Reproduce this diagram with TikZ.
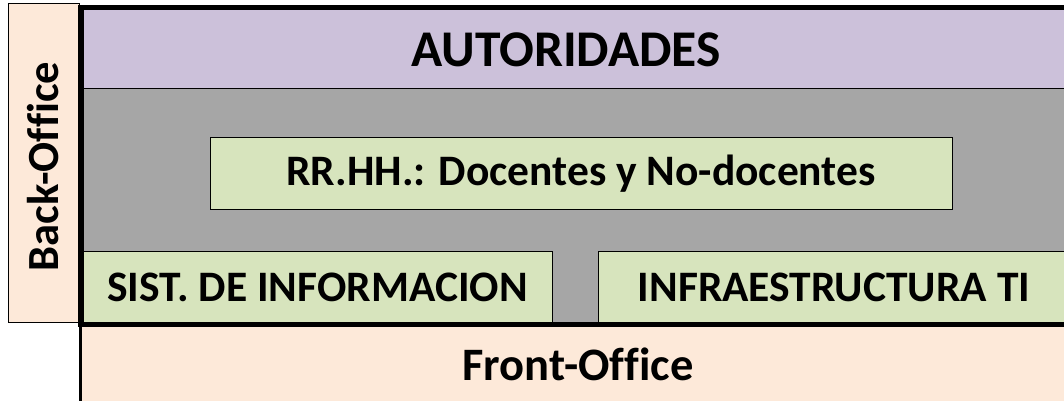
\documentclass[tikz,border=0pt]{standalone}
\usepackage{fontspec}
\setmainfont{Carlito}[Ligatures=NoCommon]
\definecolor{peach}{RGB}{253,233,217}
\definecolor{lilac}{RGB}{204,193,218}
\definecolor{midgray}{RGB}{166,166,166}
\definecolor{paleg}{RGB}{215,228,189}
\tikzset{
  box/.style={draw=black, line width=1pt, anchor=south west, inner sep=0pt, outer sep=0pt},
  lbl/.style={font=\bfseries\fontsize{43.5}{48}\selectfont, inner sep=0pt},
  biglbl/.style={font=\bfseries\fontsize{51.5}{56}\selectfont, inner sep=0pt},
}
\begin{document}
\begin{tikzpicture}[x=1pt,y=1pt]
\useasboundingbox (0,0) rectangle (1064,401);
% back office
\node[box, fill=peach, minimum width=71pt, minimum height=319pt] (back) at (8,78) {};
% front office
\node[box, draw=none, fill=peach, minimum width=991pt, minimum height=85pt] (front) at (79,-11) {};
\draw[line width=2.5pt] (front.north west) ++(1.25,0) -- ++(0,-85);
% bands
\node[box, fill=midgray, minimum width=987pt, minimum height=234pt] (mid) at (83,78) {};
\node[box, fill=lilac, minimum width=987pt, minimum height=79pt] (auth) at (83,312) {};
\node[box, fill=paleg, minimum width=742pt, minimum height=72pt] (rrhh) at (210,191) {};
\node[box, fill=paleg, minimum width=469pt, minimum height=71pt] (sist) at (83,78) {};
\node[box, fill=paleg, minimum width=472pt, minimum height=71pt] (infra) at (598,78) {};
% thick frame
\draw[line width=5pt] (80.5,76.5) rectangle (1075,393.75);
% texts
\node[biglbl] (tauth) at (566,351) {AUTORIDADES};
\node[lbl] (trrhh) at (rrhh.center) {RR.HH.: Docentes y No-docentes};
\node[lbl] (tsist) at (sist.center) {SIST. DE INFORMACION};
\node[lbl] (tinfra) at (834,113.5) {INFRAESTRUCTURA TI};
\node[lbl, font=\bfseries\fontsize{46.5}{50}\selectfont] (tfront) at (578,37) {Front-Office};
\node[lbl, font=\bfseries\fontsize{44.5}{48}\selectfont, rotate=90] (tback) at ([yshift=-3pt]back.center) {Back-Office};
\end{tikzpicture}
\end{document}
